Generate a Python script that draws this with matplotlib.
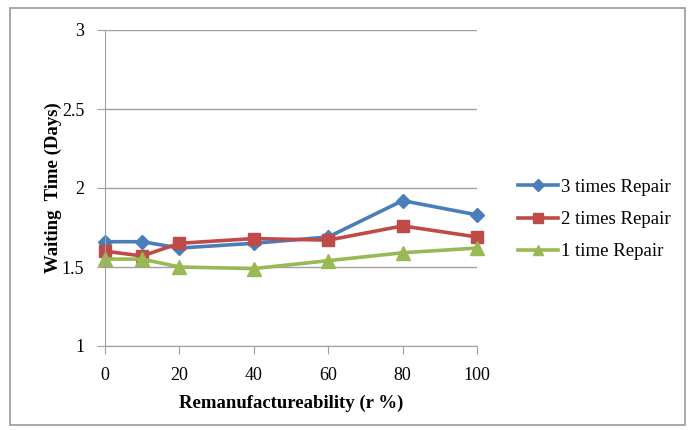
import matplotlib
matplotlib.use("Agg")
import matplotlib.pyplot as plt
from matplotlib.patches import Rectangle

x = [0, 10, 20, 40, 60, 80, 100]
three_times = [1.66, 1.66, 1.62, 1.65, 1.69, 1.92, 1.83]
two_times = [1.60, 1.57, 1.65, 1.68, 1.67, 1.76, 1.69]
one_time = [1.55, 1.55, 1.50, 1.49, 1.54, 1.59, 1.62]
labels = ["3 times Repair", "2 times Repair", "1 time Repair"]

plt.rcParams['font.family'] = ['Liberation Serif', 'DejaVu Serif']

fig = plt.figure(figsize=(6.95, 4.3), dpi=100)
ax = fig.add_axes([105/695, 1-346/430, (477-105)/695, (346-30)/430])

fig.patches.append(Rectangle((10/695, 5/430), 675/695, 417/430, transform=fig.transFigure,
                             fill=False, edgecolor='#9a9a9a', linewidth=1.2))

ax.plot(x, three_times, color='#4a7ebb', lw=2.6, marker='D', ms=7.5, label=labels[0])
ax.plot(x, two_times, color='#be4b48', lw=2.6, marker='s', ms=9, label=labels[1])
ax.plot(x, one_time, color='#98b954', lw=2.6, marker='^', ms=10, label=labels[2])

ax.set_xlim(0, 100)
ax.set_ylim(1, 3)
ax.set_xticks([0, 20, 40, 60, 80, 100])
ax.set_yticks([1, 1.5, 2, 2.5, 3])
ax.set_yticklabels(['1', '1.5', '2', '2.5', '3'])
ax.yaxis.grid(True, color='#a0a0a0', lw=1)
ax.set_axisbelow(True)
for s in ['top', 'right']:
    ax.spines[s].set_visible(False)
for s in ['left', 'bottom']:
    ax.spines[s].set_color('#a0a0a0')
ax.tick_params(axis='both', colors='#a0a0a0', labelcolor='black', labelsize=13, length=6, direction='out')
ax.tick_params(axis='y', pad=9)
ax.tick_params(axis='x', pad=9)
ax.set_xlabel('Remanufactureability (r %)', fontsize=13.5, fontweight='bold', labelpad=8)
ax.set_ylabel('Waiting  Time (Days)', fontsize=13.5, fontweight='bold', labelpad=0)
for l in ax.get_lines():
    l.set_clip_on(False)

leg = ax.legend(loc='center left', bbox_to_anchor=(1.11, 0.40), frameon=False, fontsize=13.5,
                handlelength=2.15, handletextpad=0.15, labelspacing=0.8, borderaxespad=0,
                borderpad=0, markerscale=0.75)

fig.savefig('out.png', dpi=100)
